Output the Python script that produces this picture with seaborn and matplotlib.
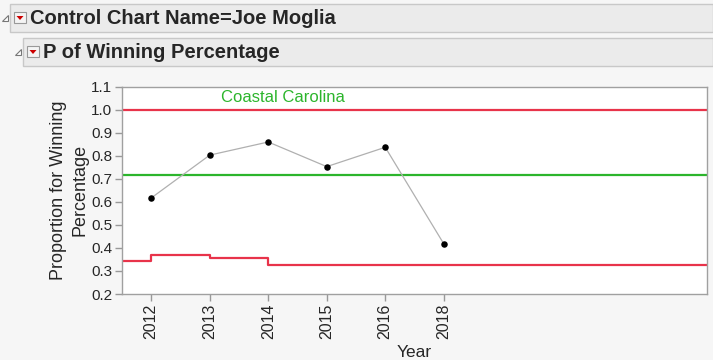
import numpy as np
import pandas as pd
import seaborn as sns
import matplotlib.pyplot as plt
from matplotlib.patches import Rectangle, Polygon

# data
years = ['2012', '2013', '2014', '2015', '2016', '2018']
win_pct = [0.617, 0.803, 0.860, 0.753, 0.837, 0.418]
center = 0.718
ucl = 1.0
lcl = [0.345, 0.369, 0.357, 0.327]   # step values, last one holds to the right edge
yticks = [0.2, 0.3, 0.4, 0.5, 0.6, 0.7, 0.8, 0.9, 1.0, 1.1]

sns.set_style('white')
plt.rcParams['font.family'] = ['Liberation Sans', 'DejaVu Sans']

RED = '#e8334a'
GREEN = '#2cb52c'
BG = '#f6f6f6'

df = pd.DataFrame({'pos': np.arange(len(years)), 'year': years, 'p': win_pct})

fig = plt.figure(figsize=(7.13, 3.6), dpi=100)
fig.patch.set_facecolor(BG)
ax = fig.add_axes([122 / 713, 66 / 360, 585 / 713, 207.3 / 360])
ax.set_facecolor('white')

xmin, xmax = -0.5, 9.5
# limits
ax.axhline(ucl, color=RED, lw=1.6, zorder=2)
ax.axhline(center, color=GREEN, lw=1.6, zorder=2)
lcl_x = [xmin] + list(range(len(lcl) - 1)) + [xmax]
lcl_y = lcl + [lcl[-1]]
ax.plot(lcl_x, lcl_y, drawstyle='steps-post', color=RED, lw=1.6, zorder=2)

sns.lineplot(data=df, x='pos', y='p', color='#b0b0b0', lw=0.9, ax=ax, zorder=3)
sns.scatterplot(data=df, x='pos', y='p', color='black', s=22, edgecolor='black',
                linewidth=0, ax=ax, zorder=4)

ax.text(2.25, 1.055, 'Coastal Carolina', color=GREEN, fontsize=12, ha='center', va='center')

ax.set_xlim(xmin, xmax)
ax.set_ylim(0.2, 1.1)
ax.set_yticks(yticks)
ax.set_yticklabels([f'{v:.1f}' for v in yticks], fontsize=11)
ax.set_xticks(df['pos'])
ax.set_xticklabels(years, rotation=90, fontsize=11.5)
ax.tick_params(axis='both', direction='out', length=5, width=1, color='#999999', pad=2, bottom=True, left=True)
for s in ax.spines.values():
    s.set_color('#a0a0a0')
    s.set_linewidth(1)

ax.set_xlabel('Year', fontsize=12.5, labelpad=4)
ax.set_ylabel('Proportion for Winning\nPercentage', fontsize=13, labelpad=2, linespacing=1.3)

# header boxes like the report outline
def header(x0, y0, y1, text):
    fig.patches.append(Rectangle((x0 / 713, 1 - y1 / 360), (713 - x0) / 713, (y1 - y0) / 360,
                                 transform=fig.transFigure, facecolor='#ebebeb',
                                 edgecolor='#c8c8c8', lw=1))
    cy = 1 - (y0 + y1) / 2 / 360
    # disclosure triangle
    tx = x0 - 8
    fig.patches.append(Polygon([((tx) / 713, cy - 3 / 360), ((tx + 6) / 713, cy - 3 / 360),
                                ((tx + 6) / 713, cy + 3 / 360)], closed=True,
                               transform=fig.transFigure, facecolor='white', edgecolor='#777777', lw=0.8))
    # red menu icon
    fig.patches.append(Rectangle(((x0 + 4) / 713, cy - 5 / 360), 12 / 713, 11 / 360,
                                 transform=fig.transFigure, facecolor='#f4f4f4',
                                 edgecolor='#999999', lw=0.8))
    fig.patches.append(Polygon([((x0 + 6.5) / 713, cy + 2 / 360), ((x0 + 13.5) / 713, cy + 2 / 360),
                                ((x0 + 10) / 713, cy - 2 / 360)], closed=True,
                               transform=fig.transFigure, facecolor='#cc0000', edgecolor='none'))
    fig.text((x0 + 20) / 713, cy, text, fontsize=14.5, fontweight='bold', ha='left', va='center')

header(10, 4, 32, 'Control Chart Name=Joe Moglia')
header(23, 38, 66, 'P of Winning Percentage')

fig.savefig('out.png', dpi=100, facecolor=BG)
